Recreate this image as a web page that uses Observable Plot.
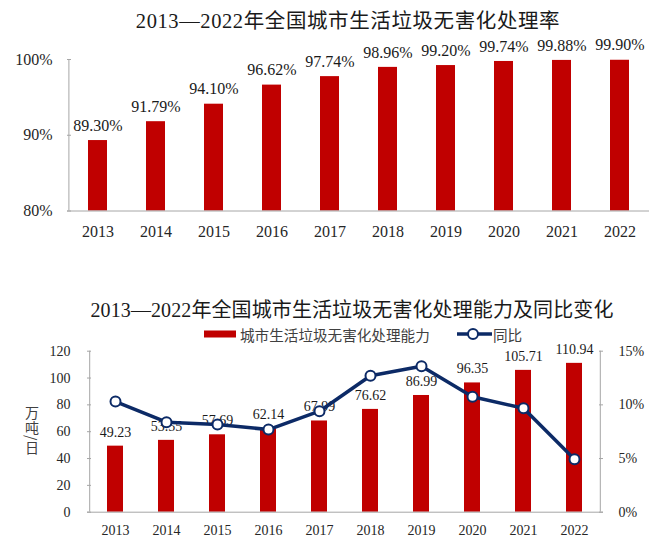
<!DOCTYPE html>
<html>
<head>
<meta charset="utf-8">
<script src="https://cdn.jsdelivr.net/npm/d3@7"></script>
<script src="https://cdn.jsdelivr.net/npm/@observablehq/plot@0.6"></script>
<style>
  body { margin: 0; background: #fff; }
  #wrap { position: relative; width: 664px; height: 552px; background: #fff; overflow: hidden;
          font-family: 'Liberation Serif', 'Noto Sans CJK SC', serif; }
  .abs { position: absolute; white-space: nowrap; }
  .title { font-size: 20.5px; color: #1a1a1a; transform: translate(-50%, -50%); letter-spacing: 0.6px; }
  .ytitle { font-family: 'Noto Sans CJK SC', sans-serif; font-size: 14px; color: #404040;
            writing-mode: vertical-rl; text-orientation: mixed; line-height: 16px; letter-spacing: 0.5px; }
</style>
</head>
<body>
<div id="wrap">
  <div class="abs title" style="left:348px; top:19px;">2013—2022年全国城市生活垃圾无害化处理率</div>
  <div class="abs title" style="left:352px; top:308px; font-size:20px; letter-spacing:0.1px;">2013—2022年全国城市生活垃圾无害化处理能力及同比变化</div>
  <svg class="abs" style="left:200px; top:322px;" width="340" height="24">
    <rect x="4" y="8.5" width="32" height="7" fill="#C00000"></rect>
    <text x="40" y="12" dominant-baseline="central" font-family="'Noto Sans CJK SC', sans-serif" font-size="14.6" fill="#404040">城市生活垃圾无害化处理能力</text>
    <line x1="257" y1="12" x2="292" y2="12" stroke="#0C2A66" stroke-width="3.5"></line>
    <circle cx="273" cy="12" r="5" fill="#fff" stroke="#0C2A66" stroke-width="2"></circle>
    <text x="293" y="12" dominant-baseline="central" font-family="'Noto Sans CJK SC', sans-serif" font-size="14.6" fill="#404040">同比</text>
  </svg>
  <div class="abs ytitle" style="left:24px; top:406px;">万吨/日</div>
  <div id="top" class="abs" style="left:0; top:0;"></div>
  <div id="bottom" class="abs" style="left:0; top:330px;"></div>
</div>
<script>
const years = ["2013","2014","2015","2016","2017","2018","2019","2020","2021","2022"];
const rate = [89.30, 91.79, 94.10, 96.62, 97.74, 98.96, 99.20, 99.74, 99.88, 99.90];
const capacity = [49.23, 53.55, 57.69, 62.14, 67.99, 76.62, 86.99, 96.35, 105.71, 110.94];
const growth = [10.31, 8.39, 8.17, 7.70, 9.41, 12.71, 13.60, 10.75, 9.69, 4.94];
const rateTicks = [80, 90, 100];
const capTicks = [0, 20, 40, 60, 80, 100, 120];
const growthTicks = [0, 5, 10, 15];

const RED = "#C00000";
const NAVY = "#0C2A66";
const AXIS = "#a6a6a6";
const TXT = "#262626";
const FONT = "'Liberation Serif', 'Noto Sans CJK SC', serif";

const topData = years.map((y, i) => ({year: y, rate: rate[i]}));
const botData = years.map((y, i) => ({year: y, cap: capacity[i], growth: growth[i]}));

// Top chart
const tW = 664, tL = 67, tR = 15;
const tFrame = tW - tL - tR;
const tStep = tFrame / years.length;
const topPlot = Plot.plot({
  width: tW, height: 250,
  marginTop: 59, marginBottom: 39.5, marginLeft: tL, marginRight: tR,
  style: {fontFamily: FONT, fontSize: "16px", background: "transparent", overflow: "visible"},
  x: {type: "band", domain: years, paddingInner: 0.674, paddingOuter: 0.337},
  y: {domain: [80, 100]},
  marks: [
    Plot.barY(topData, {x: "year", y1: 80, y2: "rate", fill: RED}),
    Plot.text(topData, {x: "year", y: "rate", text: d => d.rate.toFixed(2) + "%", dy: -15, fill: "#1a1a1a", fontSize: 16}),
    Plot.axisY({ticks: rateTicks, tickFormat: d => d + "%", tickSize: 0, tickPadding: 15, stroke: AXIS, fill: TXT, fontSize: 16, label: null}),
    Plot.tickY(rateTicks, {y: d => d, insetRight: tFrame - 4, stroke: AXIS}),
    Plot.tickX([years[0]], {x: d => d, dx: -tStep / 2, stroke: AXIS}),
    Plot.ruleY([80], {stroke: AXIS}),
    Plot.axisX({tickSize: 0, tickPadding: 14.5, stroke: AXIS, fill: TXT, fontSize: 16, label: null})
  ]
});
document.getElementById("top").appendChild(topPlot);

// Bottom chart
const bW = 664, bL = 87, bR = 61;
const bFrame = bW - bL - bR;
const bStep = bFrame / years.length;
const scaleG = 120 / 15;
const botPlot = Plot.plot({
  width: bW, height: 222,
  marginTop: 20.7, marginBottom: 40.3, marginLeft: bL, marginRight: bR,
  style: {fontFamily: FONT, fontSize: "14px", background: "transparent", overflow: "visible"},
  x: {type: "band", domain: years, paddingInner: 0.684, paddingOuter: 0.342},
  y: {domain: [0, 120]},
  marks: [
    Plot.barY(botData, {x: "year", y: "cap", fill: RED}),
    Plot.text(botData, {x: "year", y: "cap", text: d => d.cap.toFixed(2), dy: -14, fill: "#1a1a1a", fontSize: 14}),
    Plot.line(botData, {x: "year", y: d => d.growth * scaleG, stroke: NAVY, strokeWidth: 3.5}),
    Plot.dot(botData, {x: "year", y: d => d.growth * scaleG, r: 5, fill: "#fff", stroke: NAVY, strokeWidth: 2}),
    Plot.axisY({ticks: capTicks, tickSize: 0, tickPadding: 17, stroke: AXIS, fill: TXT, fontSize: 14, label: null}),
    Plot.tickY(capTicks, {y: d => d, insetRight: bFrame - 4, stroke: AXIS}),
    Plot.axisY({anchor: "right", ticks: growthTicks.map(g => g * scaleG), tickFormat: d => (d / scaleG) + "%", tickSize: 0, tickPadding: 15, stroke: AXIS, fill: TXT, fontSize: 14, label: null}),
    Plot.tickY(growthTicks, {y: d => d * scaleG, insetLeft: bFrame - 4, stroke: AXIS}),
    Plot.tickX([years[0]], {x: d => d, dx: -bStep / 2, stroke: AXIS}),
    Plot.tickX([years[years.length - 1]], {x: d => d, dx: bStep / 2, stroke: AXIS}),
    Plot.ruleY([0], {stroke: AXIS}),
    Plot.axisX({tickSize: 0, tickPadding: 13, stroke: AXIS, fill: TXT, fontSize: 14, label: null})
  ]
});
document.getElementById("bottom").appendChild(botPlot);
</script>
</body>
</html>
